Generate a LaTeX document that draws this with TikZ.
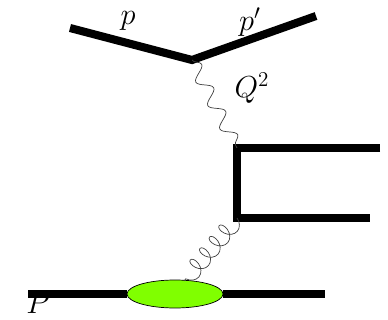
\documentclass[tikz,border=0pt]{standalone}
\usepackage{xcolor}
\usepackage{tikz}
\usetikzlibrary{positioning,shapes.geometric,decorations.pathmorphing}

\definecolor{blobgreen}{RGB}{128,255,0}

\begin{document}
\begin{tikzpicture}[
  x=0.02cm, y=-0.02cm,
  lepton/.style={line width=4.6pt},
  quark/.style={line width=4pt},
  proton/.style={line width=4pt},
  photon/.style={draw=black!75, thin, decorate,
                 decoration={snake, amplitude=3.8pt, segment length=15pt}},
  gluon/.style={draw=black!75, thin, decorate,
                decoration={coil, amplitude=5pt, segment length=8.5pt, aspect=0.7}},
  lbl/.style={font=\fontsize{18}{20}\selectfont}
]
  \useasboundingbox (0,0) rectangle (388,320);

  % Lepton line
  \coordinate (lin) at (70,28);
  \coordinate (vtx) at (192,60);
  \coordinate (lout) at (316,16);
  \draw[lepton] (lin) -- (vtx) -- (lout);
  \node[lbl] (plab) at (128,21) {$p$};
  \node[lbl] (pplab) at (250,22) {$p'$};

  % Quark pair
  \coordinate (qtop) at (237,148);
  \coordinate (qbot) at (237,218);
  \coordinate (qout1) at (380,148);
  \coordinate (qout2) at (370,218);
  \draw[quark] (qout1) -- (qtop) -- (qbot) -- (qout2);

  % Photon
  \draw[photon] (vtx) -- (qtop);
  \node[lbl] (qlab) at (252,88) {$Q^2$};

  % Proton
  \node[ellipse, draw, thin, fill=blobgreen, minimum width=1.92cm,
        minimum height=0.56cm, inner sep=0pt] (blob) at (175,294) {};
  \coordinate (pin) at (28,294);
  \coordinate (pout) at (325,294);
  \draw[proton] (pin) -- (blob.west);
  \draw[proton] (blob.east) -- (pout);
  \node[lbl] (Plab) at (38,303) {$P$};

  % Gluon
  \coordinate (gend) at (184,281);
  \draw[gluon] (qbot) -- (gend);
\end{tikzpicture}
\end{document}
